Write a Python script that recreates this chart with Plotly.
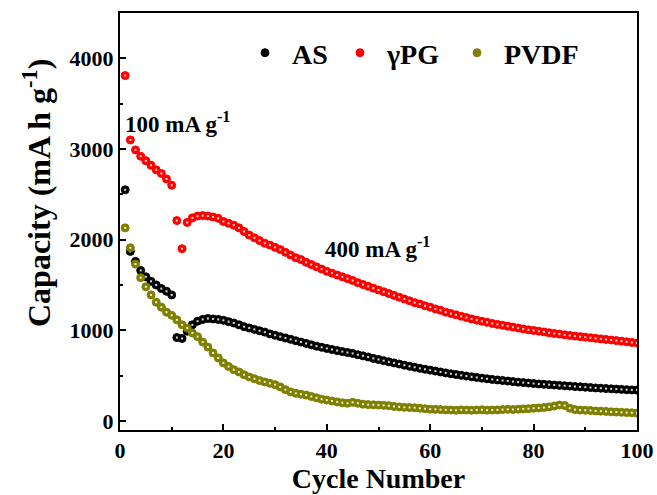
import plotly.graph_objects as go

cycles = list(range(1, 101))

as_cap = [2550, 1870, 1760, 1660, 1590, 1540, 1500, 1460, 1430, 1390,
          920, 910, 990, 1060, 1100, 1120, 1130, 1125, 1120, 1110,
          1095, 1080, 1060, 1040, 1025, 1010, 995, 980, 960, 945,
          930, 915, 900, 885, 870, 855, 840, 825, 812, 800,
          788, 776, 765, 755, 745, 730, 718, 705, 690, 678,
          665, 652, 640, 628, 615, 603, 592, 580, 570, 560,
          550, 540, 530, 520, 512, 503, 495, 487, 480, 472,
          465, 458, 452, 446, 440, 434, 428, 423, 418, 413,
          408, 404, 400, 396, 392, 388, 384, 380, 376, 372,
          368, 364, 361, 357, 354, 351, 348, 345, 342, 340]

pg_cap = [3810, 3100, 2990, 2920, 2870, 2820, 2770, 2730, 2670, 2600,
          2210, 1900, 2190, 2240, 2260, 2265, 2260, 2250, 2235, 2200,
          2180, 2160, 2130, 2090, 2050, 2020, 1990, 1960, 1940, 1915,
          1890, 1860, 1830, 1800, 1780, 1750, 1725, 1700, 1675, 1650,
          1630, 1610, 1590, 1570, 1550, 1525, 1505, 1485, 1465, 1445,
          1425, 1405, 1385, 1365, 1345, 1325, 1305, 1290, 1270, 1255,
          1235, 1220, 1200, 1185, 1170, 1155, 1140, 1125, 1112, 1100,
          1088, 1075, 1065, 1055, 1045, 1035, 1025, 1015, 1005, 998,
          990, 982, 972, 965, 958, 950, 943, 936, 930, 924,
          918, 911, 905, 899, 893, 886, 880, 873, 866, 860]

pvdf_cap = [2130, 1910, 1730, 1580, 1480, 1390, 1310, 1255, 1200, 1165,
            1115, 1060, 1025, 970, 930, 870, 815, 750, 695, 640,
            600, 565, 540, 510, 485, 465, 445, 430, 415, 400,
            375, 345, 320, 305, 295, 285, 270, 255, 240, 230,
            220, 210, 200, 195, 205, 195, 185, 180, 178, 175,
            172, 168, 160, 155, 150, 148, 145, 140, 135, 130,
            128, 125, 122, 120, 118, 122, 120, 118, 121, 123,
            119, 120, 122, 125, 128, 126, 130, 133, 135, 140,
            143, 148, 155, 165, 175, 170, 140, 125, 120, 118,
            115, 110, 108, 105, 100, 98, 95, 92, 90, 85]

series_names = ["AS", "γPG", "PVDF"]
series_colors = ["#000000", "#ff0000", "#808000"]
series_values = [as_cap, pg_cap, pvdf_cap]
legend_ids = ["legend", "legend2", "legend3"]
legend_marker_px = [265, 360, 477]

font_family = "Liberation Serif"
W, H = 657, 495
ML, MR, MT, MB = 120, 20, 13, 65
PW, PH = W - ML - MR, H - MT - MB

fig = go.Figure()
for name, color, vals, lg in zip(series_names, series_colors, series_values, legend_ids):
    fig.add_trace(go.Scatter(
        x=cycles, y=vals, mode="markers", name="\u00a0" + name, legend=lg,
        marker=dict(symbol="circle", size=8, color=color,
                    line=dict(color=color, width=1)),
    ))
    fig.add_trace(go.Scatter(
        x=cycles, y=vals, mode="markers", showlegend=False, hoverinfo="skip",
        marker=dict(symbol="square", size=2, color="rgba(255,255,255,0.85)",
                    line=dict(width=0)),
    ))

axis_common = dict(
    showline=True, linewidth=2, linecolor="black", mirror=True,
    ticks="inside", ticklen=6, tickwidth=1.5, tickcolor="black",
    showgrid=False, zeroline=False,
    tickfont=dict(family=font_family, size=22, color="black", weight="bold"),
)

fig.update_xaxes(range=[0, 100], dtick=20,
                 minor=dict(dtick=10, ticks="inside", ticklen=3, tickwidth=1.5, tickcolor="black"),
                 title=dict(text="<b>Cycle Number</b>",
                            font=dict(family=font_family, size=28, color="black"),
                            standoff=2),
                 **axis_common)
fig.update_yaxes(range=[-100, 4500], tickvals=[0, 1000, 2000, 3000, 4000],
                 minor=dict(tickvals=[500, 1500, 2500, 3500], ticks="inside",
                            ticklen=3, tickwidth=1.5, tickcolor="black"),
                 **axis_common)

fig.add_annotation(text="<b>Capacity (mA h g<sup>-1</sup>)</b>", xref="paper", yref="paper",
                   x=(37 - ML) / PW, y=(H - MB - 193) / PH, textangle=-90, showarrow=False,
                   font=dict(family=font_family, size=32, color="black"),
                   xanchor="center", yanchor="middle")
fig.add_annotation(text="<b>100 mA g<sup>-1</sup></b>", x=0.5, y=3295, xref="x", yref="y",
                   showarrow=False, xanchor="left", yanchor="middle",
                   font=dict(family=font_family, size=23, color="black"))
fig.add_annotation(text="<b>400 mA g<sup>-1</sup></b>", x=39.3, y=1917, xref="x", yref="y",
                   showarrow=False, xanchor="left", yanchor="middle",
                   font=dict(family=font_family, size=23, color="black"))

legend_layout = {}
for lg, mx in zip(legend_ids, legend_marker_px):
    legend_layout[lg] = dict(
        orientation="h", xref="paper", yref="paper",
        x=(mx - 20 - ML) / PW, y=(H - MB - 53) / PH, xanchor="left", yanchor="middle",
        bgcolor="rgba(0,0,0,0)", borderwidth=0,
        font=dict(family=font_family, size=28, color="black", weight="bold"),
    )

fig.update_layout(
    width=W, height=H,
    margin=dict(l=ML, r=MR, t=MT, b=MB, autoexpand=False),
    paper_bgcolor="white", plot_bgcolor="white",
    showlegend=True,
    **legend_layout,
)

fig.write_html("out.html")
